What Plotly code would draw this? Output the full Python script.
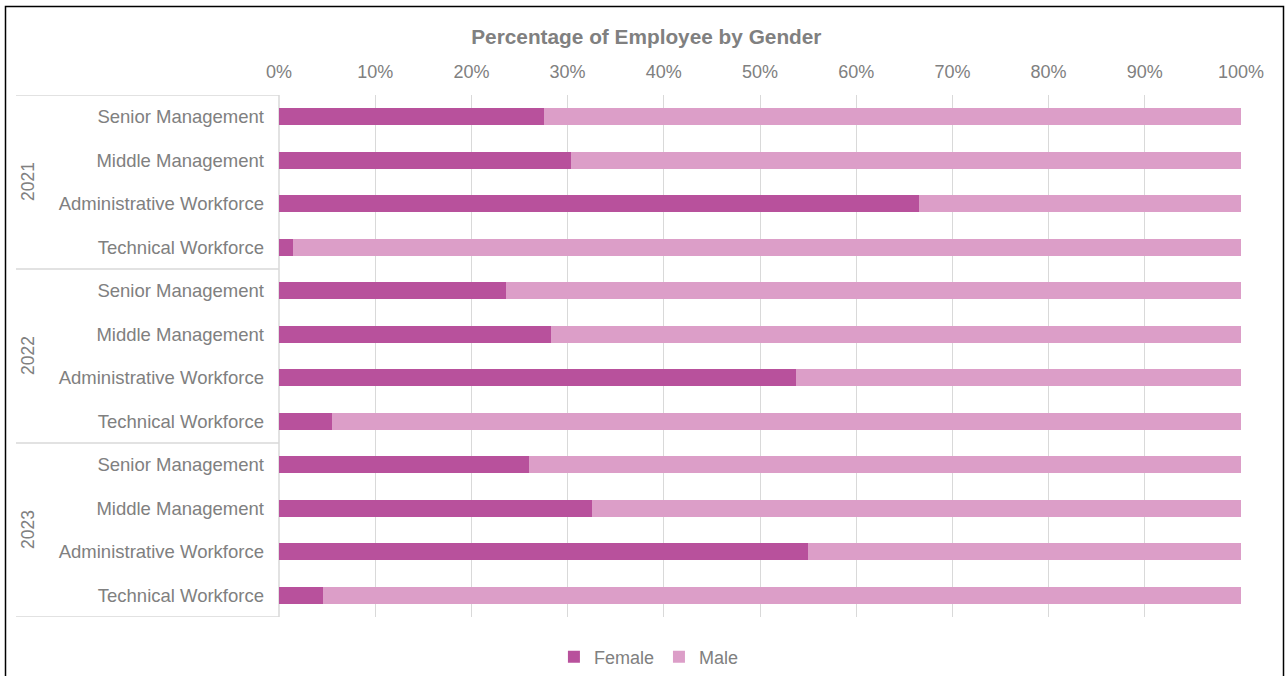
import plotly.graph_objects as go

# Workforce gender split by year and job level (percent of employees)
years = ["2021", "2022", "2023"]
levels = ["Senior Management", "Middle Management", "Administrative Workforce", "Technical Workforce"]
female = [27.5, 30.4, 66.5, 1.5,
          23.6, 28.3, 53.7, 5.5,
          26.0, 32.5, 55.0, 4.6]
male = [72.5, 69.6, 33.5, 98.5,
        76.4, 71.7, 46.3, 94.5,
        74.0, 67.5, 45.0, 95.4]
x_ticks = list(range(0, 101, 10))

FEMALE_COLOR = "#B8519C"
MALE_COLOR = "#DC9EC8"
TEXT_COLOR = "#808080"
LINE_COLOR = "#D9D9D9"
FONT = "Arial, Liberation Sans, sans-serif"

W, H = 1285, 676
ML, MR, MT, MB = 279, 44, 95, 59
plot_w = W - ML - MR

rows = list(range(len(years) * len(levels)))
row_labels = [lvl for _ in years for lvl in levels]

fig = go.Figure()
fig.add_trace(go.Bar(y=rows, x=female, orientation="h", name="Female",
                     marker=dict(color=FEMALE_COLOR, line=dict(width=0)), width=0.4))
fig.add_trace(go.Bar(y=rows, x=male, orientation="h", name="Male",
                     marker=dict(color=MALE_COLOR, line=dict(width=0)), width=0.4))

# Group separators in the label column and the year labels
label_col_left = (16 - ML) / plot_w
n = len(levels)
for g, yr in enumerate(years):
    top = g * n - 0.5
    fig.add_shape(type="line", xref="paper", yref="y", x0=label_col_left, x1=0,
                  y0=top, y1=top, line=dict(color=LINE_COLOR, width=1.5), layer="below")
    fig.add_annotation(text=yr, xref="paper", yref="y", x=(28 - ML) / plot_w,
                       xanchor="center", yanchor="middle",
                       y=g * n + (n - 1) / 2, textangle=-90, showarrow=False,
                       font=dict(size=17.5, color=TEXT_COLOR, family=FONT))
bottom = len(rows) - 0.5
fig.add_shape(type="line", xref="paper", yref="y", x0=label_col_left, x1=0,
              y0=bottom, y1=bottom, line=dict(color=LINE_COLOR, width=1.5), layer="below")
fig.add_shape(type="line", xref="paper", yref="y", x0=0, x1=0,
              y0=-0.5, y1=bottom, line=dict(color=LINE_COLOR, width=1.5), layer="below")

# Outer chart border
fig.add_shape(type="rect", xref="paper", yref="paper",
              x0=(5.5 - ML) / plot_w, x1=(W - 1.5 - ML) / plot_w,
              y0=-(MB + 10) / (H - MT - MB), y1=1 + (MT - 6.5) / (H - MT - MB),
              line=dict(color="#000000", width=1.5), fillcolor="rgba(0,0,0,0)")

fig.update_layout(
    barmode="stack",
    width=W, height=H,
    margin=dict(l=ML, r=MR, t=MT, b=MB),
    paper_bgcolor="white", plot_bgcolor="white",
    font=dict(family=FONT, color=TEXT_COLOR, size=18),
    title=dict(text="<b>Percentage of Employee by Gender</b>", xref="container", x=0.503,
               yref="container", y=1 - 37 / H, xanchor="center", yanchor="middle",
               font=dict(size=20.8, color=TEXT_COLOR, family=FONT)),
    xaxis=dict(side="top", range=[0, 100], tickvals=x_ticks,
               ticktext=[f"{v}%" for v in x_ticks], showgrid=True,
               gridcolor=LINE_COLOR, gridwidth=1, zeroline=False, showline=False,
               ticks="", ticklabelstandoff=12, fixedrange=True,
               tickfont=dict(size=18, color=TEXT_COLOR, family=FONT)),
    yaxis=dict(range=[bottom, -0.5], tickvals=rows, ticktext=row_labels,
               showgrid=False, zeroline=False, showline=False, ticks="",
               ticklabelstandoff=14,
               tickfont=dict(size=18.5, color=TEXT_COLOR, family=FONT)),
    legend=dict(orientation="h", xref="container", x=0.505, xanchor="center",
                yref="container", y=1 - 657 / H, yanchor="middle",
                font=dict(size=18, color=TEXT_COLOR, family=FONT),
                itemwidth=30, traceorder="normal"),
    showlegend=True,
)

fig.write_html("out.html")
